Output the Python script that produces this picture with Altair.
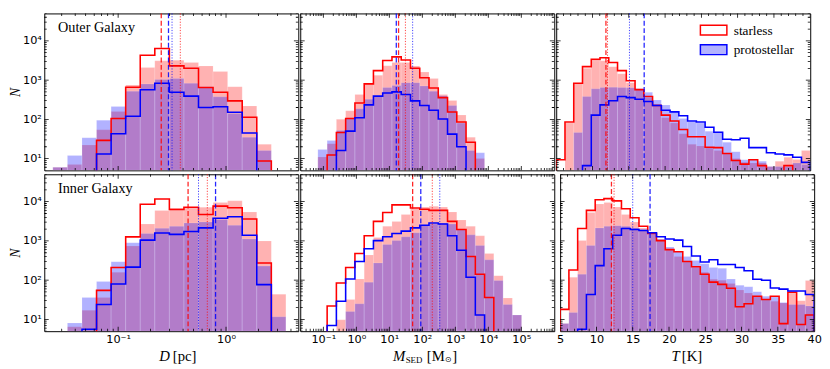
import altair as alt
import pandas as pd

# ---------------- data ----------------
# bin edges: log10(D/pc), log10(M/Msun), T/K
D_EDGES_LOG = [-1.605, -1.47, -1.335, -1.2, -1.065, -0.93, -0.795, -0.66, -0.525,
               -0.39, -0.255, -0.12, 0.015, 0.15, 0.285, 0.42, 0.555]
M_EDGES_LOG = [-1.165, -0.884, -0.604, -0.323, -0.042, 0.239, 0.519, 0.800, 1.081,
               1.361, 1.642, 1.923, 2.203, 2.484, 2.765, 3.046, 3.326, 3.607, 3.888,
               4.168, 4.449, 4.730, 5.010]
T_EDGES = [5, 6.207, 7.414, 8.621, 9.828, 11.034, 12.241, 13.448, 14.655, 15.862,
           17.069, 18.276, 19.483, 20.69, 21.897, 23.103, 24.31, 25.517, 26.724,
           27.931, 29.138, 30.345, 31.552, 32.759, 33.966, 35.172, 36.379, 37.586,
           38.793, 40]

# Outer Galaxy, D
outer_D_sl_fill = [6, 7, 22, 54, 158, 750, 2100, 3100, 3200, 2800, 2300, 1650, 680, 220, 23, 0]
outer_D_ps_fill = [6, 12, 34, 95, 213, 520, 800, 1030, 1090, 830, 680, 375, 140, 35, 16, 0]
outer_D_sl_step = [0, 0, 0, 29, 105, 660, 4300, 6400, 2300, 2000, 650, 490, 295, 113, 8.7, 0]
outer_D_ps_step = [0, 0, 0, 13, 43, 120, 565, 830, 490, 390, 200, 210, 152, 45, 0, 0]
# Inner Galaxy, D
inner_D_sl_fill = [0, 6.5, 17, 36, 158, 740, 2700, 6000, 6900, 6900, 7200, 9600, 10500, 5500, 1000, 44]
inner_D_ps_fill = [0, 8.1, 36, 93, 295, 900, 1550, 2100, 2350, 2880, 3040, 3500, 2500, 1120, 228, 11.7]
inner_D_sl_step = [0, 0, 0, 55, 210, 1270, 8600, 11700, 6300, 7200, 4700, 7700, 7000, 3640, 275, 0]
inner_D_ps_step = [0, 0, 5.6, 24, 80, 215, 1050, 1600, 1470, 1740, 2150, 3800, 4150, 1400, 77, 0]

# Outer Galaxy, M_SED
outer_M_sl_fill = [11, 24, 100, 165, 430, 820, 1320, 2320, 2800, 2800, 2300, 1600, 1100, 430,
                   300, 128, 35, 10, 0, 0, 0, 0]
outer_M_ps_fill = [17, 29, 52, 105, 185, 325, 390, 650, 730, 860, 860, 710, 520, 400,
                   224, 80, 16, 14, 0, 0, 0, 0]
outer_M_sl_step = [0, 12.3, 46, 105, 260, 800, 1740, 3170, 3900, 3240, 2000, 1150, 630, 357,
                   153, 85, 26, 0, 0, 0, 0, 0]
outer_M_ps_step = [0, 0, 16, 50, 110, 233, 390, 470, 500, 430, 295, 224, 170, 102,
                   42, 20, 0, 0, 0, 0, 0, 0]
# Inner Galaxy, M_SED
inner_M_sl_fill = [0, 0, 9.8, 32, 107, 440, 1230, 2360, 3150, 4700, 6600, 7300, 7700, 7300,
                   5500, 3440, 2360, 1350, 480, 130, 35, 13]
inner_M_ps_fill = [0, 0, 0, 16, 25, 89, 275, 815, 1020, 1280, 1620, 2600, 2700, 2850,
                   2700, 1960, 1430, 770, 330, 98, 24, 13]
inner_M_sl_step = [0, 22, 85, 210, 480, 1350, 3150, 5300, 8300, 8300, 6900, 6400, 6000, 6000,
                   3150, 1960, 400, 142, 36, 0, 0, 0]
inner_M_ps_step = [0, 7, 29, 107, 300, 635, 1020, 1280, 1540, 1780, 2150, 2500, 2850, 2700,
                   1350, 580, 118, 13, 0, 0, 0, 0]

# Outer Galaxy, T
outer_T_sl_fill = [0, 80, 830, 2000, 3100, 3100, 2200, 1450, 860, 630, 357, 245, 110, 80, 43,
                   23, 21, 19, 16, 13.5, 10, 8, 7.7, 7.7, 6.3, 8.5, 10.8, 9.5, 16]
outer_T_ps_fill = [0, 0, 46, 380, 600, 650, 660, 650, 640, 600, 490, 310, 233, 160, 105,
                   87, 80, 50, 48, 26, 15, 9.3, 9.5, 8.5, 6.3, 6.3, 6.3, 7.7, 7]
outer_T_sl_step = [9.3, 85, 830, 2200, 3370, 3700, 2800, 1740, 960, 570, 380, 224, 128, 91, 55,
                   36, 36, 19.5, 19, 13.5, 8.9, 7.2, 9.3, 6.6, 0, 0, 6.6, 0, 0]
outer_T_ps_step = [0, 0, 0, 6.6, 128, 233, 297, 380, 357, 325, 286, 224, 170, 155, 123,
                   91, 85, 63, 47, 31, 30, 33, 19, 19, 14, 13, 12.4, 10.8, 8]
# Inner Galaxy, T
inner_T_sl_fill = [7.8, 118, 1020, 5300, 8800, 9600, 7300, 4700, 3030, 2150, 1480, 1020, 600,
                   400, 290, 210, 160, 105, 100, 82, 56, 47, 39, 32, 29, 26, 47, 30, 98]
inner_T_ps_fill = [7.8, 15, 142, 770, 2150, 2360, 2450, 2360, 2150, 1950, 1620, 1120, 700,
                   530, 400, 315, 263, 210, 200, 107, 74, 68, 51, 39, 37, 27, 24, 24, 22]
inner_T_sl_step = [18, 182, 2080, 6000, 11200, 12000, 10500, 6600, 3900, 2360, 1540, 1020, 600,
                   530, 300, 220, 142, 89, 78, 62, 21, 25, 39, 32, 39, 7.8, 49, 7.4, 13]
inner_T_ps_step = [0, 0, 5.6, 43, 235, 630, 1400, 2080, 1960, 1850, 1620, 1280, 1120, 1050,
                   720, 415, 290, 330, 250, 250, 210, 173, 105, 99, 63, 59, 53, 53, 43]

# reference lines: [starless dashed, protostellar dashed, starless dotted, protostellar dotted]
outer_D_lines = [0.251, 0.293, 0.377, 0.316]
inner_D_lines = [0.445, 0.80, 0.671, 0.556]
outer_M_lines = [19.1, 16.3, 30.8, 51.0]
inner_M_lines = [51.0, 90.0, 201.0, 339.0]
outer_T_lines = [11.85, 17.12, 12.07, 15.09]
inner_T_lines = [12.07, 17.39, 12.43, 15.0]

# ---------------- styling ----------------
W, H = 259, 160
RED, BLUE = "#ff0000", "#0000ff"
TINY = 0.5
SERIF = "Liberation Serif"
SANS = "DejaVu Sans"
MAJ, MIN = 4.5, 2.5

ys = alt.Scale(type="log", domain=[5, 5e4], nice=False)
xs_D = alt.Scale(type="log", domain=[0.02068, 4.677], nice=False)
xs_M = alt.Scale(type="log", domain=[0.02, 1e6], nice=False)
xs_T = alt.Scale(type="linear", domain=[5, 40], nice=False, zero=False)

SUP = str.maketrans("-0123456789", "⁻⁰¹²³⁴⁵⁶⁷⁸⁹")


def sup_expr(exps):
    parts = [f"round(log(datum.value)/LN10) == {e} ? '10{str(e).translate(SUP)}'" for e in exps]
    return " : ".join(parts) + " : ''"


def bars(edges, counts):
    return pd.DataFrame([{"x0": edges[k], "x1": edges[k + 1], "v": c}
                         for k, c in enumerate(counts) if c > 0])


def steps(edges, counts):
    rows = [{"x": edges[0], "y": TINY, "i": 0}]
    rows += [{"x": edges[k], "y": (c if c > 0 else TINY), "i": k + 1} for k, c in enumerate(counts)]
    rows.append({"x": edges[-1], "y": TINY, "i": len(counts) + 1})
    return pd.DataFrame(rows)


def ticks_df(major, minor):
    return pd.DataFrame([{"t": v, "L": 2 * MAJ} for v in major] +
                        [{"t": v, "L": 2 * MIN} for v in minor])


Y_MAJOR = [10, 100, 1000, 10000]
Y_MINOR = [m * 10 ** e for e in range(0, 5) for m in range(2, 10) if 5 <= m * 10 ** e <= 5e4]
D_MAJOR = [0.1, 1]
D_MINOR = [m * 10.0 ** e for e in (-2, -1, 0) for m in range(2, 10) if 0.02068 <= m * 10.0 ** e <= 4.677]
M_MAJOR = [10.0 ** e for e in range(-1, 6)]
M_MINOR = [m * 10.0 ** e for e in range(-2, 6) for m in range(2, 10) if 0.02 <= m * 10.0 ** e <= 1e6]
T_MAJOR = [5, 10, 15, 20, 25, 30, 35, 40]
T_MINOR = [v for v in range(6, 40) if v % 5 != 0]


def text_layer(txt, x, y, size=14, style="normal", align="left", font=SERIF, dy=0):
    return alt.Chart(pd.DataFrame({"t": [txt]})).mark_text(
        align=align, baseline="middle", font=font, fontSize=size, fontStyle=style,
        color="black", dy=dy).encode(text="t:N", x=alt.value(x), y=alt.value(y))


def make_panel(edges, sl_fill, ps_fill, sl_step, ps_step, lines, xs, xmaj, xmin,
               xaxis=None, yaxis=None, extra=()):
    def X(f):
        return alt.X(f, type="quantitative", scale=xs, axis=xaxis)

    def Y(f):
        return alt.Y(f, type="quantitative", scale=ys, axis=yaxis)

    layers = []
    for cnt, col in ((sl_fill, RED), (ps_fill, BLUE)):
        layers.append(alt.Chart(bars(edges, cnt)).mark_rect(
            fill=col, fillOpacity=0.3, stroke="white", strokeWidth=0.5, strokeOpacity=0.3, clip=True
        ).encode(x=X("x0"), x2="x1:Q", y=Y("v"), y2=alt.value(H)))
    for cnt, col in ((sl_step, RED), (ps_step, BLUE)):
        layers.append(alt.Chart(steps(edges, cnt)).mark_line(
            interpolate="step-after", color=col, strokeWidth=1.6, clip=True, strokeJoin="miter"
        ).encode(x=X("x"), y=Y("y"), order="i:Q"))
    ldf = pd.DataFrame({"m": lines, "c": [RED, BLUE, RED, BLUE],
                        "d": ["dashed", "dashed", "dotted", "dotted"],
                        "o": [0.85, 0.85, 0.75, 0.75], "w": [1.3, 1.3, 1.0, 1.0]})
    layers.append(alt.Chart(ldf).mark_rule().encode(
        x=X("m"),
        color=alt.Color("c:N", scale=None),
        strokeDash=alt.StrokeDash("d:N", scale=alt.Scale(domain=["dashed", "dotted"],
                                                         range=[[5, 2.5], [1.2, 1.6]]), legend=None),
        opacity=alt.Opacity("o:Q", scale=None),
        strokeWidth=alt.StrokeWidth("w:Q", scale=None)))
    ytk = ticks_df(Y_MAJOR, Y_MINOR)
    for xv in (0, W):
        layers.append(alt.Chart(ytk).mark_tick(orient="horizontal", thickness=0.8, color="black",
                                               clip=True, opacity=1).encode(
            y=Y("t"), x=alt.value(xv),
            size=alt.Size("L:Q", scale=None, legend=None)))
    xtk = ticks_df(xmaj, xmin)
    for yv in (0, H):
        layers.append(alt.Chart(xtk).mark_tick(orient="vertical", thickness=0.8, color="black",
                                               clip=True, opacity=1).encode(
            x=X("t"), y=alt.value(yv),
            size=alt.Size("L:Q", scale=None, legend=None)))
    layers.extend(extra)
    return alt.layer(*layers).properties(width=W, height=H)


yaxis_left = alt.Axis(values=Y_MAJOR, labelExpr=sup_expr([1, 2, 3, 4]), title="N",
                      titleFont=SERIF, titleFontStyle="italic", titleFontSize=14,
                      titleFontWeight="normal", titlePadding=0, ticks=False, domain=False,
                      grid=False, labelFont=SANS, labelFontSize=11.5, labelPadding=3,
                      labelColor="black", titleColor="black")


def xaxis(values, expr=None):
    kw = dict(values=values, title=None, ticks=False, domain=False, grid=False,
              labelFont=SANS, labelFontSize=11.5, labelPadding=3, labelOverlap=False,
              labelFlush=False, labelColor="black")
    if expr:
        kw["labelExpr"] = expr
    return alt.Axis(**kw)


D_E = [10 ** v for v in D_EDGES_LOG]
M_E = [10 ** v for v in M_EDGES_LOG]

ty = H + 25
legend_layers = [
    alt.Chart(pd.DataFrame({"a": [1]})).mark_rect(fill="white", stroke=RED, strokeWidth=1.5).encode(
        x=alt.value(147), x2=alt.value(174), y=alt.value(12), y2=alt.value(22)),
    alt.Chart(pd.DataFrame({"a": [1]})).mark_rect(fill="#b3b3ff", stroke=BLUE, strokeWidth=1.5).encode(
        x=alt.value(147), x2=alt.value(174), y=alt.value(32), y2=alt.value(42)),
    text_layer("starless", 181, 17.5, size=13.5),
    text_layer("protostellar", 181, 37.5, size=13.5),
]

p1 = make_panel(D_E, outer_D_sl_fill, outer_D_ps_fill, outer_D_sl_step, outer_D_ps_step,
                outer_D_lines, xs_D, D_MAJOR, D_MINOR, yaxis=yaxis_left,
                extra=[text_layer("Outer Galaxy", 14, 15, size=14.5)])
p2 = make_panel(M_E, outer_M_sl_fill, outer_M_ps_fill, outer_M_sl_step, outer_M_ps_step,
                outer_M_lines, xs_M, M_MAJOR, M_MINOR)
p3 = make_panel(T_EDGES, outer_T_sl_fill, outer_T_ps_fill, outer_T_sl_step, outer_T_ps_step,
                outer_T_lines, xs_T, T_MAJOR, T_MINOR, extra=legend_layers)

p4 = make_panel(D_E, inner_D_sl_fill, inner_D_ps_fill, inner_D_sl_step, inner_D_ps_step,
                inner_D_lines, xs_D, D_MAJOR, D_MINOR, yaxis=yaxis_left,
                xaxis=xaxis(D_MAJOR, sup_expr([-1, 0])),
                extra=[text_layer("Inner Galaxy", 14, 15, size=14.5),
                       text_layer("D", 128, ty, style="italic", align="right", size=15),
                       text_layer("[pc]", 131, ty, size=15)])
p5 = make_panel(M_E, inner_M_sl_fill, inner_M_ps_fill, inner_M_sl_step, inner_M_ps_step,
                inner_M_lines, xs_M, M_MAJOR, M_MINOR,
                xaxis=xaxis(M_MAJOR, sup_expr([-1, 0, 1, 2, 3, 4, 5])),
                extra=[text_layer("M", 107, ty, style="italic", align="right", size=15),
                       text_layer("SED", 107.5, ty, size=9, dy=4),
                       text_layer("[M", 129, ty, size=15),
                       text_layer("⊙", 147.5, ty, size=8, font=SANS, dy=4),
                       text_layer("]", 155, ty, size=15)])
p6 = make_panel(T_EDGES, inner_T_sl_fill, inner_T_ps_fill, inner_T_sl_step, inner_T_ps_step,
                inner_T_lines, xs_T, T_MAJOR, T_MINOR, xaxis=xaxis(T_MAJOR),
                extra=[text_layer("T", 122, ty, style="italic", align="right", size=15),
                       text_layer("[K]", 124, ty, size=15)])

top = alt.hconcat(p1, p2, p3, spacing=0)
bottom = alt.hconcat(p4, p5, p6, spacing=0)
chart = alt.vconcat(top, bottom, spacing=0).properties(padding=0, background="white").configure_view(
    stroke="black", strokeWidth=1)

chart.save("out.html", embed_options={"renderer": "svg", "actions": False})
